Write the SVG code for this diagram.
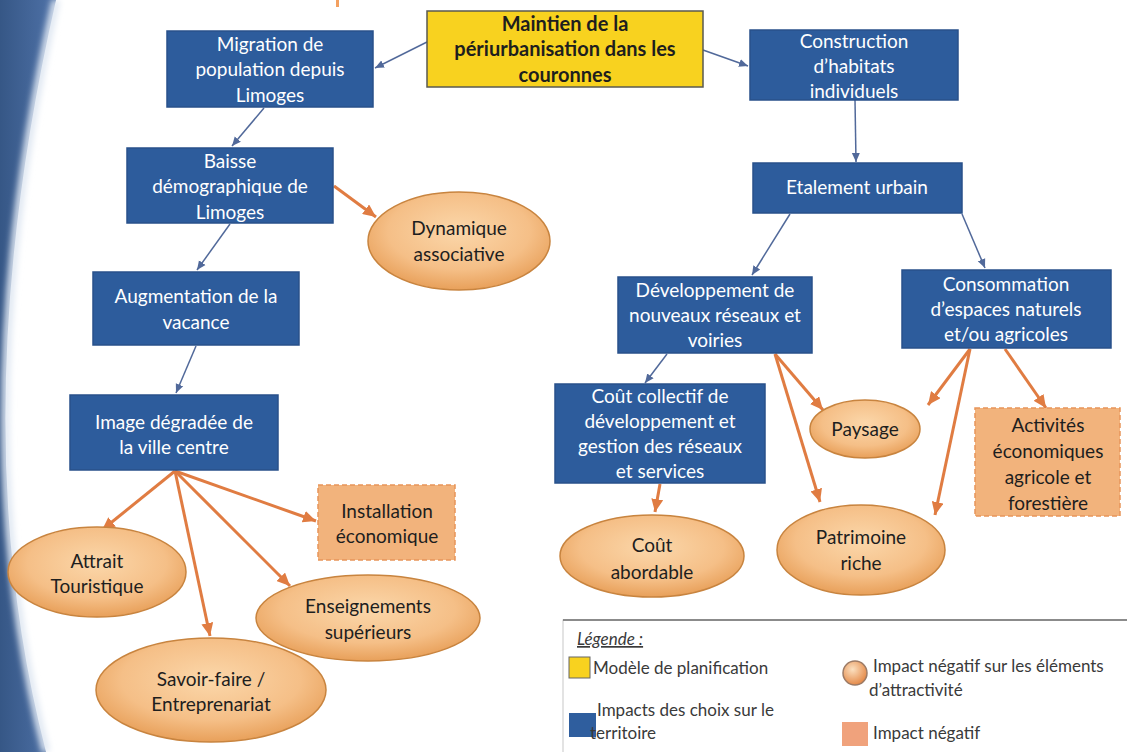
<svg xmlns="http://www.w3.org/2000/svg" width="1127" height="752" viewBox="0 0 1127 752">
<defs>
<style>
.bx{fill:#2d5c9c;stroke:#28508a;stroke-width:1.5}
.bt{font-family:Lato,"Liberation Sans",sans-serif;font-size:19px;fill:#ffffff;text-anchor:middle}
.ot{font-family:Lato,"Liberation Sans",sans-serif;font-size:19px;fill:#1e1e1e;text-anchor:middle}
.yt{font-family:Lato,"Liberation Sans",sans-serif;font-size:20px;font-weight:bold;fill:#1e1e1e;text-anchor:middle}
.el{fill:url(#eg);stroke:#c8843f;stroke-width:1.5}
.ds{fill:#f2b37c;stroke:#e8955a;stroke-width:1.5;stroke-dasharray:5 3}
.cb{fill:none;stroke:#51699a;stroke-width:1.5;marker-end:url(#ab)}
.co{fill:none;stroke:#e07c42;stroke-width:3;marker-end:url(#ao)}
.lt{font-family:Lato,"Liberation Sans",sans-serif;font-size:17px;fill:#3a3a3a}
</style>
<radialGradient id="eg" cx="50%" cy="40%" r="60%">
<stop offset="0" stop-color="#fbd7aa"/>
<stop offset="0.65" stop-color="#f5bf87"/>
<stop offset="1" stop-color="#e8a05a"/>
</radialGradient>
<linearGradient id="bg" x1="0" y1="0" x2="1" y2="0">
<stop offset="0" stop-color="#365786"/>
<stop offset="1" stop-color="#4f72a8"/>
</linearGradient>
<radialGradient id="cg" cx="40%" cy="35%" r="65%">
<stop offset="0" stop-color="#fbe0c0"/>
<stop offset="1" stop-color="#e58b4a"/>
</radialGradient>
<filter id="blur" x="-50%" y="-10%" width="200%" height="120%"><feGaussianBlur stdDeviation="3"/></filter>
<marker id="ab" markerUnits="userSpaceOnUse" markerWidth="10" markerHeight="10" refX="9" refY="5" orient="auto"><path d="M0,1 L9,5 L0,9 z" fill="#51699a"/></marker>
<marker id="ao" markerUnits="userSpaceOnUse" markerWidth="14" markerHeight="12" refX="13" refY="6" orient="auto"><path d="M0,0 L13,6 L0,12 z" fill="#e07c42"/></marker>
</defs>
<rect width="1127" height="752" fill="#ffffff"/>
<g id="background">
<path d="M0,0 L56,0 Q-40,420 46,752 L0,752 Z" fill="url(#bg)"/>
<path d="M56,0 Q-40,420 46,752" fill="none" stroke="#dfe7f2" stroke-width="8" filter="url(#blur)"/>
<rect x="336" y="0" width="3" height="7" fill="#f3a060"/>
</g>
<g id="connectors">
<path class="cb" d="M427,42 L375,68"/>
<path class="cb" d="M703,50 L748,66"/>
<path class="cb" d="M264,108 L232,146"/>
<path class="cb" d="M230,224 L197,270"/>
<path class="cb" d="M196,346 L176,393"/>
<path class="cb" d="M855,100 L856,162"/>
<path class="cb" d="M790,214 L752,275"/>
<path class="cb" d="M962,214 L985,268"/>
<path class="cb" d="M667,354 L645,383"/>
<path class="co" d="M334,186 L376,217"/>
<path class="co" d="M175,471 L102,530"/>
<path class="co" d="M175,471 L210,636"/>
<path class="co" d="M175,471 L290,586"/>
<path class="co" d="M175,471 L316,521"/>
<path class="co" d="M775,354 L823,410"/>
<path class="co" d="M775,354 L820,502"/>
<path class="co" d="M970,349 L928,405"/>
<path class="co" d="M970,349 L935,515"/>
<path class="co" d="M1005,349 L1046,408"/>
<path class="co" d="M660,484 L655,512"/>
</g>
<g id="n-maintien">
<rect x="427" y="11" width="276" height="76" fill="#f8d21f" stroke="#5a5a50" stroke-width="1.5"/>
<text class="yt" x="565" y="31">Maintien de la</text>
<text class="yt" x="565" y="56">périurbanisation dans les</text>
<text class="yt" x="565" y="82">couronnes</text>
</g>
<g id="n-migration">
<rect class="bx" x="167" y="31" width="206" height="76"/>
<text class="bt" x="270" y="51">Migration de</text>
<text class="bt" x="270" y="76">population depuis</text>
<text class="bt" x="270" y="102">Limoges</text>
</g>
<g id="n-baisse">
<rect class="bx" x="127" y="148" width="206" height="75"/>
<text class="bt" x="230" y="168">Baisse</text>
<text class="bt" x="230" y="193">démographique de</text>
<text class="bt" x="230" y="219">Limoges</text>
</g>
<g id="n-augmentation">
<rect class="bx" x="93" y="272" width="206" height="73"/>
<text class="bt" x="196" y="303">Augmentation de la</text>
<text class="bt" x="196" y="329">vacance</text>
</g>
<g id="n-image">
<rect class="bx" x="70" y="395" width="208" height="75"/>
<text class="bt" x="174" y="429">Image dégradée de</text>
<text class="bt" x="174" y="454">la ville centre</text>
</g>
<g id="n-dynamique">
<ellipse class="el" cx="459" cy="241" rx="91" ry="49"/>
<text class="ot" x="459" y="235">Dynamique</text>
<text class="ot" x="459" y="261">associative</text>
</g>
<g id="n-installation">
<rect class="ds" x="318" y="485" width="137" height="75"/>
<text class="ot" x="387" y="518">Installation</text>
<text class="ot" x="387" y="543">économique</text>
</g>
<g id="n-attrait">
<ellipse class="el" cx="97" cy="572" rx="89" ry="45"/>
<text class="ot" x="97" y="568">Attrait</text>
<text class="ot" x="97" y="593">Touristique</text>
</g>
<g id="n-enseignements">
<ellipse class="el" cx="368" cy="618" rx="112" ry="43"/>
<text class="ot" x="368" y="613">Enseignements</text>
<text class="ot" x="368" y="639">supérieurs</text>
</g>
<g id="n-savoir">
<ellipse class="el" cx="211" cy="690" rx="115" ry="52"/>
<text class="ot" x="211" y="686">Savoir-faire /</text>
<text class="ot" x="211" y="711">Entreprenariat</text>
</g>
<g id="n-construction">
<rect class="bx" x="750" y="30" width="208" height="70"/>
<text class="bt" x="854" y="48">Construction</text>
<text class="bt" x="854" y="73">d’habitats</text>
<text class="bt" x="854" y="98">individuels</text>
</g>
<g id="n-etalement">
<rect class="bx" x="753" y="163" width="209" height="50"/>
<text class="bt" x="857" y="194">Etalement urbain</text>
</g>
<g id="n-developpement">
<rect class="bx" x="618" y="277" width="194" height="76"/>
<text class="bt" x="715" y="297">Développement de</text>
<text class="bt" x="715" y="322">nouveaux réseaux et</text>
<text class="bt" x="715" y="347">voiries</text>
</g>
<g id="n-consommation">
<rect class="bx" x="902" y="270" width="209" height="78"/>
<text class="bt" x="1006" y="291">Consommation</text>
<text class="bt" x="1006" y="316">d’espaces naturels</text>
<text class="bt" x="1006" y="341">et/ou agricoles</text>
</g>
<g id="n-coutcollectif">
<rect class="bx" x="555" y="384" width="210" height="99"/>
<text class="bt" x="660" y="403">Coût collectif de</text>
<text class="bt" x="660" y="428">développement et</text>
<text class="bt" x="660" y="453">gestion des réseaux</text>
<text class="bt" x="660" y="478">et services</text>
</g>
<g id="n-paysage">
<ellipse class="el" cx="865" cy="429" rx="55" ry="29"/>
<text class="ot" x="865" y="436">Paysage</text>
</g>
<g id="n-activites">
<rect class="ds" x="975" y="408" width="145" height="108"/>
<text class="ot" x="1048" y="432">Activités</text>
<text class="ot" x="1048" y="458">économiques</text>
<text class="ot" x="1048" y="484">agricole et</text>
<text class="ot" x="1048" y="510">forestière</text>
</g>
<g id="n-coutabordable">
<ellipse class="el" cx="652" cy="556" rx="92" ry="41"/>
<text class="ot" x="652" y="552">Coût</text>
<text class="ot" x="652" y="579">abordable</text>
</g>
<g id="n-patrimoine">
<ellipse class="el" cx="861" cy="550" rx="84" ry="45"/>
<text class="ot" x="861" y="544">Patrimoine</text>
<text class="ot" x="861" y="570">riche</text>
</g>
<g id="legend">
<rect x="563" y="620" width="570" height="140" fill="#ffffff" stroke="#c8c8c8" stroke-width="1"/>
<line x1="563" y1="620" x2="1127" y2="620" stroke="#6e6e6e" stroke-width="1.5"/>
<text class="lt" x="577" y="645" font-style="italic" text-decoration="underline">Légende :</text>
<rect x="569" y="657" width="21" height="21" fill="#f8d21f" stroke="#666" stroke-width="1"/>
<text class="lt" x="593" y="674">Modèle de planification</text>
<rect x="569" y="713" width="27" height="24" fill="#2f5e9e"/>
<text class="lt" x="597" y="716">Impacts des choix sur le</text>
<text class="lt" x="590" y="739">territoire</text>
<circle cx="855" cy="673" r="12" fill="url(#cg)" stroke="#9c7b66" stroke-width="1.5"/>
<text class="lt" x="873" y="672">Impact négatif sur les éléments</text>
<text class="lt" x="869" y="696">d’attractivité</text>
<rect x="842" y="722" width="26" height="24" fill="#f0a27c"/>
<text class="lt" x="873" y="739">Impact négatif</text>
</g>
</svg>
